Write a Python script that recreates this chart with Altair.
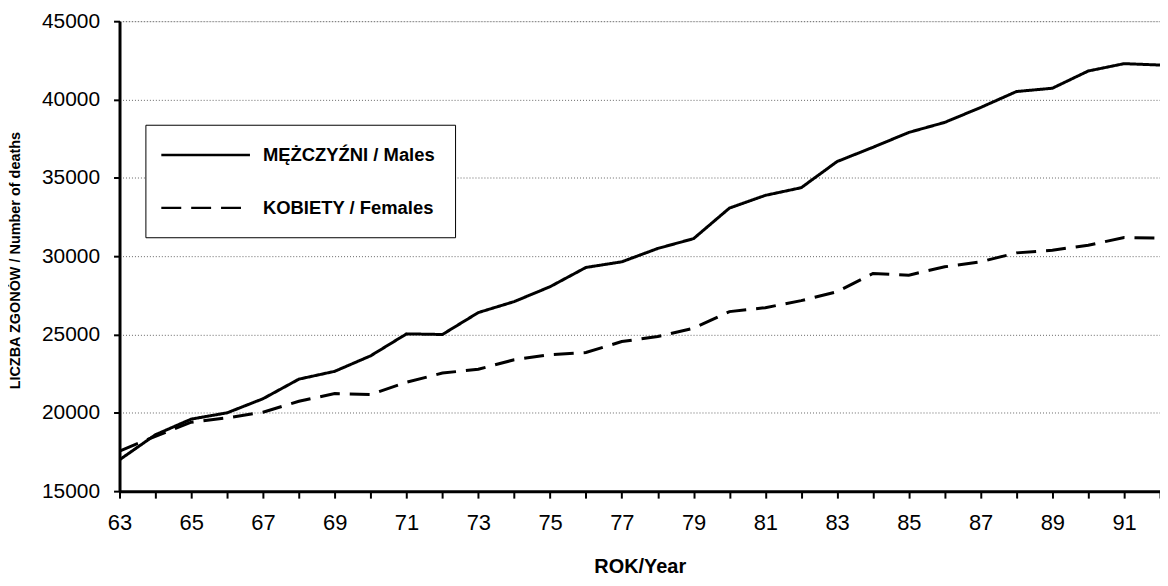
import altair as alt
import pandas as pd

years = list(range(63, 93))
males = [17000, 18600, 19600, 20000, 20900, 22150, 22650, 23640, 25040, 25000,
         26400, 27100, 28050, 29280, 29640, 30490, 31120, 33070, 33880, 34370,
         36040, 36950, 37900, 38540, 39490, 40510, 40720, 41820, 42290, 42200]
females = [17560, 18500, 19400, 19680, 20040, 20740, 21230, 21170, 21950, 22540,
           22780, 23390, 23710, 23850, 24550, 24870, 25400, 26460, 26710, 27160,
           27730, 28900, 28790, 29320, 29640, 30210, 30380, 30700, 31190, 31150]
series_names = ["MĘŻCZYŹNI / Males", "KOBIETY / Females"]
y_ticks = [15000, 20000, 25000, 30000, 35000, 40000, 45000]

rows = []
for i, yr in enumerate(years):
    rows.append({"year": yr, "deaths": males[i], "series": series_names[0]})
    rows.append({"year": yr, "deaths": females[i], "series": series_names[1]})
df = pd.DataFrame(rows)

FONT = "Liberation Sans, Arial, sans-serif"

chart = alt.Chart(df).mark_line(color="black", strokeWidth=3, clip=True).encode(
    x=alt.X("year:Q",
            scale=alt.Scale(domain=[63, 92], nice=False, zero=False),
            axis=alt.Axis(title="ROK/Year", values=years,
                          labelExpr="datum.value % 2 == 1 ? datum.label : ''",
                          grid=False, domainColor="black", domainWidth=3,
                          tickColor="black", tickWidth=2, tickSize=7,
                          labelFont=FONT, labelFontSize=22, labelColor="black",
                          labelPadding=15, labelFlush=False,
                          titleFont=FONT, titleFontSize=20, titleFontWeight="bold",
                          titleColor="black", titleBaseline="middle", titleY=76)),
    y=alt.Y("deaths:Q",
            scale=alt.Scale(domain=[15000, 45000], nice=False, zero=False),
            axis=alt.Axis(title="LICZBA ZGONÓW / Number of deaths", values=y_ticks,
                          format="d", grid=True, gridColor="#666", gridDash=[1, 2],
                          gridWidth=1, domainColor="black", domainWidth=3,
                          tickColor="black", tickWidth=2, tickSize=6,
                          labelFont=FONT, labelFontSize=21, labelColor="black",
                          labelPadding=14,
                          titleFont=FONT, titleFontSize=14.5, titleFontWeight="bold",
                          titleColor="black", titleBaseline="middle",
                          titleX=-104, titleY=240, titleAngle=-90)),
    strokeDash=alt.StrokeDash("series:N",
                              scale=alt.Scale(domain=series_names, range=[[1, 0], [20, 10]]),
                              legend=alt.Legend(title=None, orient="none",
                                                legendX=26, legendY=104,
                                                strokeColor="black", padding=20,
                                                fillColor="white",
                                                symbolType="M-5,0H5", symbolSize=317,
                                                symbolStrokeColor="black",
                                                symbolStrokeWidth=2.5,
                                                symbolOffset=30, labelOffset=47,
                                                rowPadding=33,
                                                labelFont=FONT, labelFontSize=18.5,
                                                labelFontWeight="bold", labelColor="black",
                                                labelLimit=400)),
).properties(
    width=1045, height=472,
    autosize=alt.AutoSizeParams(type="none"),
    padding={"left": 112, "top": 12, "right": 0, "bottom": 90},
).configure_view(stroke=None).configure(background="white")

chart.save("out.html", embed_options={"renderer": "svg", "actions": False})
